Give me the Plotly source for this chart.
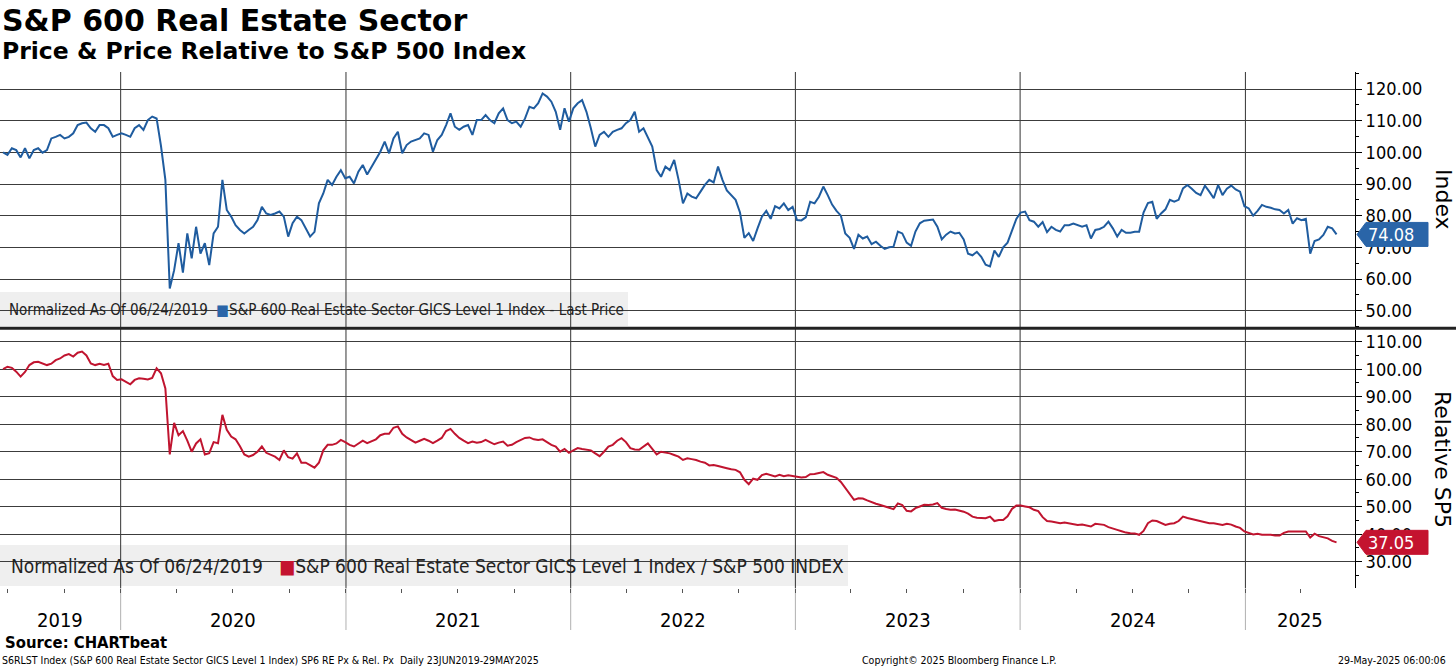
import pandas as pd
import plotly.graph_objects as go

# ---------------- data ----------------
price = [
    100, 99.2, 101.3, 100.7, 98.4, 101.3, 98.1, 100.7, 101.3, 99.9,
    100.7, 104.4, 104.9, 105.5, 104.4, 104.9, 106.0, 108.6, 109.2, 109.4,
    107.6, 106.5, 108.6, 108.6, 107.6, 104.9, 105.5, 106.0, 105.5, 104.9,
    107.6, 108.6, 107.1, 110.2, 111.3, 110.7, 102.0, 91.3, 57.0, 62.8,
    71.3, 62.0, 74.4, 66.5, 76.5, 68.0, 71.3, 64.4, 74.4, 76.5,
    91.3, 81.8, 79.7, 77.0, 75.5, 74.4, 75.5, 76.5, 78.6, 82.8,
    80.7, 80.2, 80.7, 81.3, 79.7, 73.4, 77.6, 79.7, 78.6, 76.0,
    73.4, 74.9, 83.9, 87.0, 91.3, 89.7, 92.3, 94.4, 91.8, 92.3,
    90.2, 93.9, 96.0,
    93.0, 95.5, 98.1, 100.2, 103.4, 99.7, 104.4,
    106.5, 99.7, 102.3, 103.4, 103.9, 104.4, 106.0, 105.5, 100.2, 103.9,
    105.5, 108.6, 112.3, 108.1, 107.1, 108.1, 108.6, 105.5, 110.2, 110.2,
    111.8, 110.2, 109.2, 112.3, 113.9, 110.2, 109.2, 109.7, 108.1, 110.7,
    114.4, 113.9, 115.5, 118.6, 117.6, 116.0, 112.8, 107.1, 113.9, 109.7,
    113.9, 115.5, 116.5, 112.8, 107.6, 101.8, 105.5, 106.5, 104.9, 106.5,
    107.1, 107.6, 109.2, 110.2, 112.8, 106.5, 107.6, 104.9, 101.8, 94.4,
    92.3, 95.5, 94.4, 97.6, 91.3, 83.9, 87.0, 86.0, 85.5, 87.6,
    89.7, 91.3,
    90.5, 95.5, 91.3, 88.0, 86.5, 85.0, 81.0, 73.0,
    74.5, 72.0, 76.0, 79.7, 81.5, 79.0, 83.0, 82.3, 83.9, 81.8,
    82.8, 78.6, 78.5, 79.5, 84.4, 83.9, 86.0, 89.2, 86.5, 83.5,
    81.5, 80.0, 74.4, 73.0, 69.5, 74.0, 72.8, 73.4, 71.0, 71.8,
    70.5, 69.5, 70.0, 70.2, 75.0, 74.4, 71.5, 70.5, 75.0, 77.6,
    78.4, 78.6, 78.8, 76.5, 72.5, 74.0, 75.0, 74.4, 74.6, 72.5,
    68.0, 67.5, 68.6, 67.0, 64.5, 64.0, 69.0, 67.0, 70.0, 71.5,
    75.5, 79.0, 81.0, 81.3, 78.6, 78.1, 76.5, 78.0, 74.8, 76.5,
    75.5, 75.0, 77.0,
    77.0, 77.5, 77.0, 76.5, 77.0, 72.8, 75.5,
    75.8, 76.5, 78.1, 76.0, 73.4, 75.5, 74.6, 74.6, 74.9, 74.9,
    81.0, 84.0, 84.4, 79.0, 80.7, 82.0, 85.0, 84.4, 85.0, 88.6,
    89.7, 88.5, 87.2, 86.5, 89.5, 87.6, 85.5, 89.7, 86.5, 88.5,
    89.5, 88.3, 87.6, 83.0, 82.3, 80.0, 81.5, 83.4, 82.8, 82.5,
    82.0, 81.8, 80.7, 81.8, 77.5, 79.2, 78.6, 79.0, 68.0, 72.0,
    72.5, 73.9, 76.5, 76.0, 74.08,
]

relative = [
    100.0, 100.9, 100.5, 99.1, 97.3, 99.0, 101.5, 102.5, 102.7, 102.0,
    101.5, 102.0, 103.3, 103.9, 105.0, 105.5, 104.6, 106.0, 106.4, 105.0,
    102.1, 101.5, 102.0, 101.5, 102.0, 97.5, 96.1, 96.3, 95.5, 94.5,
    96.1, 96.7, 96.5, 96.3, 96.8, 100.3, 98.5, 93.0, 69.0, 80.5,
    76.0, 77.5, 74.0, 70.0, 73.0, 74.5, 69.0, 69.5, 73.5, 73.1,
    83.4, 78.0, 75.5, 74.5, 72.0, 69.0, 68.2, 68.8, 70.0, 71.9,
    69.6, 69.0, 68.2, 67.0, 70.5, 68.0, 67.5, 69.4, 66.0, 66.0,
    65.2, 64.2, 66.0, 70.5, 72.5, 72.5, 73.0, 74.3, 73.5, 72.5,
    71.9, 73.0, 74.0,
    73.1, 73.7, 74.5, 76.0, 76.5, 76.5, 78.7,
    79.2, 76.5, 75.2, 74.3, 73.3, 74.0, 74.7, 74.0, 73.1, 74.0,
    75.0, 77.5, 78.3, 76.5, 75.0, 74.0, 73.1, 73.7, 73.3, 73.5,
    74.3, 73.5, 72.7, 73.3, 73.7, 72.2, 72.5, 73.5, 74.3, 75.0,
    75.2, 74.5, 74.3, 74.5, 73.5, 72.5, 71.9, 70.0, 71.0, 69.6,
    70.5, 71.3, 71.0, 70.7, 70.5, 69.4, 68.4, 70.0, 71.9, 72.5,
    74.0, 74.9, 73.5, 71.3, 70.8, 70.7, 71.9, 73.0, 71.0, 69.0,
    70.0, 69.7, 69.4, 68.8, 68.2, 67.0, 67.6, 67.3, 67.0, 66.4,
    66.0, 65.0,
    65.2, 64.8, 64.5, 64.0, 63.6, 63.4, 62.5, 59.8,
    58.2, 60.2, 59.8, 61.5, 62.0, 61.4, 61.0, 61.6, 61.1, 61.4,
    61.2, 61.0, 60.6, 60.8, 61.8, 61.9, 62.3, 62.6, 61.6, 61.0,
    60.5, 59.0, 56.9, 54.6, 52.5, 53.1, 53.0, 52.3, 51.6, 51.1,
    50.6, 50.2, 49.6, 49.1, 51.2, 50.6, 48.5, 48.3, 49.5, 50.1,
    50.7, 50.6, 50.8, 51.3, 49.6, 49.2, 48.9, 49.0, 48.6, 48.2,
    47.5, 46.4, 46.0, 45.8, 45.8, 46.4, 44.8, 45.2, 45.2, 46.5,
    49.2, 50.4, 50.4, 50.1, 49.8, 48.9, 48.4, 46.2, 44.8, 44.6,
    44.4, 44.0, 44.3,
    44.0, 43.8, 43.4, 43.5, 43.2, 42.8, 43.8,
    43.6, 43.4, 42.6, 42.0, 41.6, 41.1, 40.6, 40.4, 40.3, 39.8,
    41.2, 44.0, 45.0, 44.8, 44.0, 43.4, 43.8, 44.0, 44.8, 46.4,
    45.9, 45.5, 45.1, 44.6, 44.2, 44.0, 44.0, 43.6, 43.4, 43.8,
    43.5, 42.8, 42.3, 41.0, 40.5, 39.9, 40.2, 39.8, 39.8, 39.8,
    39.5, 39.5, 40.5, 41.0, 41.0, 41.0, 41.0, 41.0, 38.8, 40.2,
    39.3, 38.8, 38.5, 37.6, 37.05,
]

start_date = "2019-06-24"
end_date = "2025-05-29"
dates = pd.date_range(start_date, end_date, periods=len(price))

years = [2019, 2020, 2021, 2022, 2023, 2024, 2025]
top_ticks = [50, 60, 70, 80, 90, 100, 110, 120]
bottom_ticks = [30, 40, 50, 60, 70, 80, 90, 100, 110]

title_text = "S&P 600 Real Estate Sector"
subtitle_text = "Price & Price Relative to S&P 500 Index"
legend_top = "S&P 600 Real Estate Sector GICS Level 1 Index - Last Price"
legend_bottom = "S&P 600 Real Estate Sector GICS Level 1 Index / S&P 500 INDEX"
normalized_text = "Normalized As Of 06/24/2019"
source_text = "Source: CHARTbeat"
footer_left = "S6RLST Index (S&P 600 Real Estate Sector GICS Level 1 Index) SP6 RE Px &amp; Rel. Px&nbsp;&nbsp;Daily 23JUN2019-29MAY2025"
footer_mid = "Copyright© 2025 Bloomberg Finance L.P."
footer_right = "29-May-2025 06:00:06"

# ---------------- layout helpers ----------------
W, H = 1456, 668
def px(p):
    return p / W
def py(p):
    return 1 - p / H

BLUE = "#1f5c9f"
BLUE_BOX = "#2a65a8"
RED = "#c0142f"
RED_BOX = "#c4132f"
GRID = "#3c3c3c"
COND = "DejaVu Sans Condensed, DejaVu Sans, sans-serif"

x_range = [pd.Timestamp("2019-06-19"), pd.Timestamp("2025-06-28")]
top_range = [44.85, 125.37]
bot_range = [20.45, 114.25]
x_dom = [0, px(1355)]
top_dom = [py(327), py(72)]
bot_dom = [py(588), py(330)]

fig = go.Figure()
fig.add_trace(go.Scatter(x=dates, y=price, mode="lines", xaxis="x", yaxis="y",
                         line=dict(color=BLUE, width=2), showlegend=False, hoverinfo="skip"))
fig.add_trace(go.Scatter(x=dates, y=relative, mode="lines", xaxis="x2", yaxis="y2",
                         line=dict(color=RED, width=2), showlegend=False, hoverinfo="skip"))

yaxis_common = dict(
    side="right", showline=True, linecolor="black", linewidth=1,
    showgrid=True, gridcolor=GRID, gridwidth=1, zeroline=False,
    ticks="outside", ticklen=6, tickcolor="black", tickwidth=1,
    tickformat=".2f", tickfont=dict(family=COND, size=18, color="black"),
    minor=dict(ticks="outside", ticklen=3, dtick=5, tickcolor="black", showgrid=False),
    fixedrange=True,
)

quarters = pd.date_range("2019-07-01", "2025-04-01", freq="QS")

fig.update_layout(
    width=W, height=H, margin=dict(l=0, r=0, t=0, b=0),
    paper_bgcolor="white", plot_bgcolor="white",
    xaxis=dict(domain=x_dom, range=x_range, anchor="y", showgrid=False, showticklabels=False,
               ticks="", zeroline=False, showline=False),
    xaxis2=dict(domain=x_dom, range=x_range, anchor="y2", matches="x", showgrid=False,
                showticklabels=False, tickmode="array", tickvals=quarters, ticks="outside",
                ticklen=4, tickcolor="#555", zeroline=False, showline=False),
    yaxis=dict(domain=top_dom, range=top_range, tickvals=top_ticks, anchor="x", **yaxis_common),
    yaxis2=dict(domain=bot_dom, range=bot_range, tickvals=bottom_ticks, anchor="x2", **yaxis_common),
)

shapes = []
# legend boxes (below gridlines)
shapes.append(dict(type="rect", xref="paper", yref="paper", x0=px(0), x1=px(628),
                   y0=py(326), y1=py(292), fillcolor="#efefef", line=dict(width=0), layer="below"))
shapes.append(dict(type="rect", xref="paper", yref="paper", x0=px(0), x1=px(848),
                   y0=py(586), y1=py(545), fillcolor="#efefef", line=dict(width=0), layer="below"))
# year boundaries
for yr in years[1:]:
    d = pd.Timestamp(f"{yr}-01-01")
    shapes.append(dict(type="line", xref="x", yref="paper", x0=d, x1=d,
                       y0=bot_dom[0], y1=top_dom[1], line=dict(color="#333333", width=1), layer="below"))
    shapes.append(dict(type="line", xref="x", yref="paper", x0=d, x1=d,
                       y0=py(630), y1=bot_dom[0], line=dict(color="#b0b0b0", width=1), layer="below"))
# panel separator
shapes.append(dict(type="line", xref="paper", yref="paper", x0=0, x1=1, y0=py(328.3), y1=py(328.3),
                   line=dict(color="#222222", width=3)))

annotations = []

# last value labels
def value_label(series, yref, yrange, dom, fill):
    last = series[-1]
    span_px = (dom[1] - dom[0]) * H
    units_per_px = (yrange[1] - yrange[0]) / span_px
    half = 12 * units_per_px
    xt, xb, xr = px(1357), px(1366), px(1428)
    path = (f"M {xt},{last} L {xb},{last + half} L {xr},{last + half} "
            f"L {xr},{last - half} L {xb},{last - half} Z")
    shapes.append(dict(type="path", xref="paper", yref=yref, path=path,
                       fillcolor=fill, line=dict(color=fill, width=1), layer="above"))
    annotations.append(dict(x=px(1391), y=last, xref="paper", yref=yref, text=f"{last:.2f}",
                            showarrow=False, font=dict(family=COND, size=18, color="white"),
                            xanchor="center", yanchor="middle"))

value_label(price, "y", top_range, top_dom, BLUE_BOX)
value_label(relative, "y2", bot_range, bot_dom, RED_BOX)

# titles
annotations.append(dict(x=0, y=py(20), xref="paper", yref="paper", text=f"<b>{title_text}</b>",
                        showarrow=False, xanchor="left", yanchor="middle",
                        font=dict(family="DejaVu Sans", size=30, color="black")))
annotations.append(dict(x=0, y=py(51), xref="paper", yref="paper", text=f"<b>{subtitle_text}</b>",
                        showarrow=False, xanchor="left", yanchor="middle",
                        font=dict(family="DejaVu Sans", size=23.5, color="black")))

# legends
annotations.append(dict(x=px(7), y=py(310), xref="paper", yref="paper",
                        text=f"{normalized_text}&nbsp;&nbsp;<span style='color:{BLUE_BOX}'>■</span>{legend_top}",
                        showarrow=False, xanchor="left", yanchor="middle",
                        font=dict(family=COND, size=15, color="#222")))
annotations.append(dict(x=px(9), y=py(566), xref="paper", yref="paper",
                        text=f"{normalized_text}&nbsp;&nbsp;&nbsp;<span style='color:{RED_BOX}'>■</span>{legend_bottom}",
                        showarrow=False, xanchor="left", yanchor="middle",
                        font=dict(family=COND, size=19, color="#222")))

# axis titles
annotations.append(dict(x=px(1443), y=py(199), xref="paper", yref="paper", text="Index",
                        showarrow=False, textangle=90, xanchor="center", yanchor="middle",
                        font=dict(family="DejaVu Sans", size=22, color="black")))
annotations.append(dict(x=px(1443), y=py(459), xref="paper", yref="paper", text="Relative SP5",
                        showarrow=False, textangle=90, xanchor="center", yanchor="middle",
                        font=dict(family="DejaVu Sans", size=22, color="black")))

# year labels centred in the visible part of each year
for yr in years:
    a = max(pd.Timestamp(f"{yr}-01-01"), x_range[0])
    b = min(pd.Timestamp(f"{yr + 1}-01-01"), x_range[1])
    mid = a + (b - a) / 2
    annotations.append(dict(x=mid, y=py(620), xref="x2", yref="paper", text=str(yr),
                            showarrow=False, xanchor="center", yanchor="middle",
                            font=dict(family=COND, size=20, color="black")))

# footer
annotations.append(dict(x=px(3), y=py(642), xref="paper", yref="paper", text=f"<b>{source_text}</b>",
                        showarrow=False, xanchor="left", yanchor="middle",
                        font=dict(family=COND, size=16.5, color="black")))
annotations.append(dict(x=px(0), y=py(660), xref="paper", yref="paper", text=footer_left,
                        showarrow=False, xanchor="left", yanchor="middle",
                        font=dict(family=COND, size=10.5, color="black")))
annotations.append(dict(x=px(860), y=py(660), xref="paper", yref="paper", text=footer_mid,
                        showarrow=False, xanchor="left", yanchor="middle",
                        font=dict(family=COND, size=10.5, color="black")))
annotations.append(dict(x=px(1448), y=py(660), xref="paper", yref="paper", text=footer_right,
                        showarrow=False, xanchor="right", yanchor="middle",
                        font=dict(family=COND, size=10.5, color="black")))

fig.update_layout(shapes=shapes, annotations=annotations)
fig.write_html("out.html", config={"displayModeBar": False},
               post_script="document.body.style.margin='0px';")
